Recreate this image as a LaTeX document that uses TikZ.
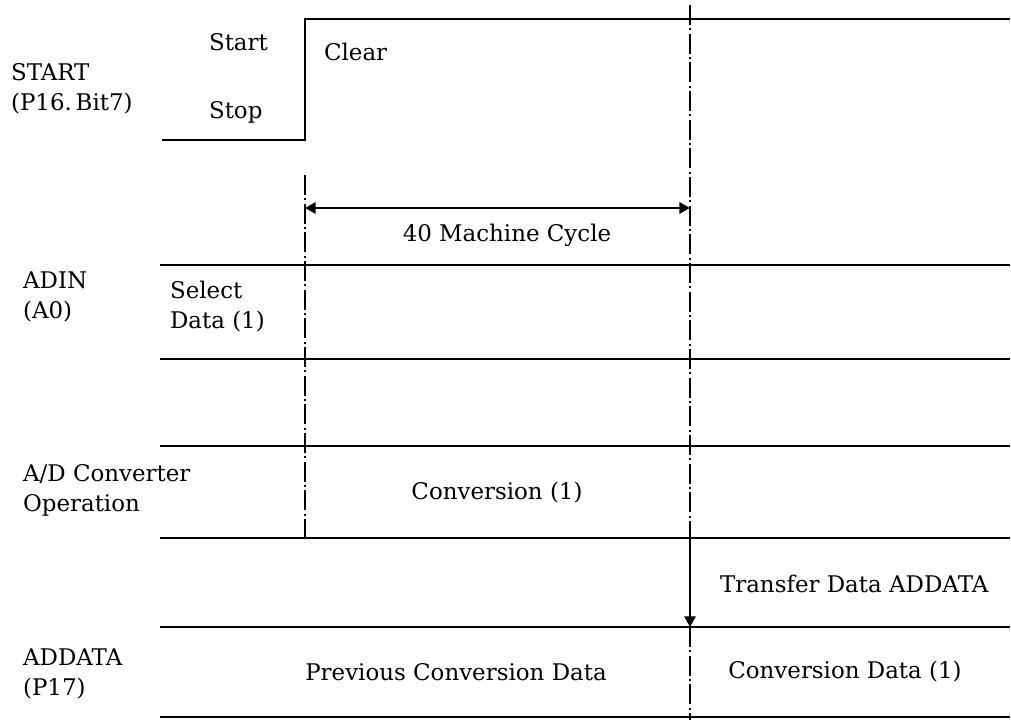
\documentclass[tikz,border=0pt]{standalone}
\usepackage{fontspec}
\setmainfont{DejaVu Serif}
\usetikzlibrary{arrows.meta}

\begin{document}
\begin{tikzpicture}[x=0.75pt, y=-0.75pt, line width=1.6pt,
    font=\fontsize{17.2pt}{22.5pt}\selectfont,
    lbl/.style={anchor=west, inner sep=0pt, align=left},
    txt/.style={inner sep=0pt},
    marker/.style={line width=1.4pt, dash pattern=on 15pt off 2.5pt on 1.5pt off 2.5pt},
    >={Triangle[length=8pt,width=8.5pt]}]

    \useasboundingbox (0,0) rectangle (1011,720);

    % START level
    \coordinate (s0) at (162,140);
    \coordinate (s1) at (305,140);
    \coordinate (s2) at (305,19);
    \coordinate (s3) at (1010,19);
    \draw (s0) -- (s1) -- (s2) -- (s3);

    % bus lines
    \foreach \y/\n in {265/a, 359/b, 446/c, 538/d, 627/e, 717/f}
        \draw (160,\y) coordinate (\n0) -- (1010,\y) coordinate (\n1);

    % time marks
    \coordinate (m0) at (305,175);
    \coordinate (m1) at (305,538);
    \coordinate (t0) at (690,5);
    \coordinate (t1) at (690,538);
    \coordinate (t2) at (690,627);
    \coordinate (t3) at (690,720);
    \draw[marker] (m0) -- (m1);
    \draw[marker] (t0) -- (t1);
    \draw[marker] (t2) -- (t3);

    \coordinate (w0) at (305,208);
    \coordinate (w1) at (690,208);
    \draw[<->] (w0) -- (w1);
    \draw[->] (t1) -- (t2);

    \node[lbl] (startsig) at (10,89) {START\\(P16.\,Bit7)};
    \node[lbl] (hi) at (208,42) {Start};
    \node[lbl] (lo) at (208,112) {Stop};
    \node[lbl] (clr) at (323,52) {Clear};
    \node[txt] (cyc) at (507,235) {40 Machine Cycle};
    \node[lbl] (adin) at (22,297) {ADIN\\(A0)};
    \node[lbl] (sel) at (169,307) {Select\\Data (1)};
    \node[lbl] (adc) at (22,490) {A/D Converter\\Operation};
    \node[txt] (conv) at (497,493) {Conversion (1)};
    \node[lbl] (xfer) at (719,584) {Transfer Data ADDATA};
    \node[lbl] (addata) at (22,674) {ADDATA\\(P17)};
    \node[txt] (prev) at (456,672) {Previous Conversion Data};
    \node[txt] (cdata) at (845,672) {Conversion Data (1)};

\end{tikzpicture}
\end{document}
